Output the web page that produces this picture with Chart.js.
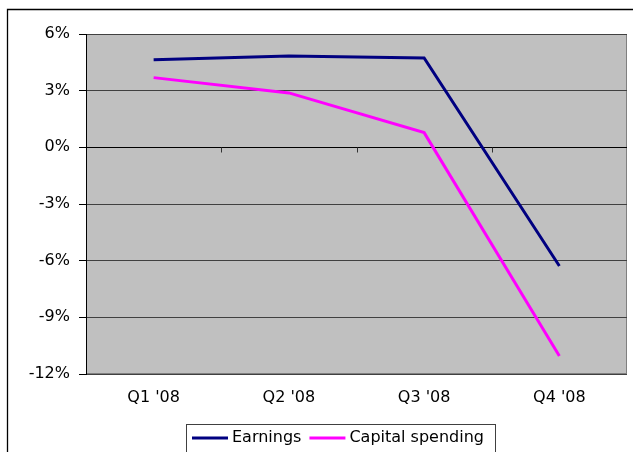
<!DOCTYPE html>
<html>
<head>
<meta charset="utf-8">
<script src="https://cdn.jsdelivr.net/npm/chart.js@4/dist/chart.umd.min.js"></script>
<style>
   html, body { margin: 0; padding: 0; background: #ffffff; }
   #wrap { width: 633px; height: 452px; }
</style>
</head>
<body>
<div id="wrap"><canvas id="graph" width="633" height="452"></canvas></div>
<script>
const quarters = ["Q1 '08", "Q2 '08", "Q3 '08", "Q4 '08"];
const earnings = [4.64, 4.84, 4.73, -6.28];
const capitalSpending = [3.69, 2.88, 0.78, -11.05];
const yTicks = [-12, -9, -6, -3, 0, 3, 6];

const fontFamily = '"DejaVu Sans", sans-serif';

// fond gris, bordures, petites graduations sur la ligne 0 et legende encadree
const plotDecor = {
   id: 'plotDecor',
   beforeDraw(chart) {
      const ctx = chart.ctx;
      const a = chart.chartArea;
      ctx.save();
      ctx.fillStyle = '#ffffff';
      ctx.fillRect(0, 0, chart.width, chart.height);
      // cadre exterieur
      ctx.strokeStyle = '#000000';
      ctx.lineWidth = 1.3;
      ctx.beginPath();
      ctx.moveTo(7.5, chart.height + 2);
      ctx.lineTo(7.5, 9.5);
      ctx.lineTo(chart.width + 2, 9.5);
      ctx.stroke();
      ctx.fillStyle = '#c0c0c0';
      ctx.fillRect(a.left, a.top, a.right - a.left, a.bottom - a.top);
      ctx.strokeStyle = '#808080';
      ctx.lineWidth = 1;
      ctx.strokeRect(a.left + 0.5, a.top + 0.5, a.right - a.left - 1, a.bottom - a.top - 1);
      ctx.restore();
   },
   beforeDatasetsDraw(chart) {
      const ctx = chart.ctx;
      const x = chart.scales.x;
      const y0 = Math.round(chart.scales.y.getPixelForValue(0)) + 0.5;
      ctx.save();
      ctx.strokeStyle = '#333333';
      ctx.lineWidth = 1;
      for (let i = 0; i < quarters.length - 1; i++) {
         const px = Math.round((x.getPixelForValue(i) + x.getPixelForValue(i + 1)) / 2) + 0.5;
         ctx.beginPath();
         ctx.moveTo(px, y0);
         ctx.lineTo(px, y0 + 5);
         ctx.stroke();
      }
      ctx.restore();
   },
   afterDraw(chart) {
      const ctx = chart.ctx;
      ctx.save();
      ctx.strokeStyle = '#404040';
      ctx.lineWidth = 1;
      ctx.strokeRect(186.5, 424.5, 309, 40);
      ctx.font = '16px ' + fontFamily;
      ctx.textBaseline = 'middle';
      ctx.fillStyle = '#000000';
      let x = 192;
      const yMid = 438;
      chart.data.datasets.forEach(ds => {
         ctx.strokeStyle = ds.borderColor;
         ctx.lineWidth = 3;
         ctx.beginPath();
         ctx.moveTo(x, yMid);
         ctx.lineTo(x + 36, yMid);
         ctx.stroke();
         ctx.fillText(ds.label, x + 40, yMid);
         x += 40 + ctx.measureText(ds.label).width + 8;
      });
      ctx.restore();
   }
};

new Chart(
   document.getElementById('graph'),
   {
      type: 'line',
      data: {
         labels: quarters,
         datasets: [
            {
               label: 'Earnings',
               data: earnings,
               borderColor: '#000080',
               backgroundColor: '#000080',
               borderWidth: 3,
               pointRadius: 0,
               tension: 0
            },
            {
               label: 'Capital spending',
               data: capitalSpending,
               borderColor: '#ff00ff',
               backgroundColor: '#ff00ff',
               borderWidth: 3,
               pointRadius: 0,
               tension: 0
            }
         ]
      },
      options: {
         responsive: false,
         animation: false,
         layout: {
            padding: { left: 0, top: 34, right: 6, bottom: 0 }
         },
         plugins: {
            legend: { display: false },
            tooltip: { enabled: false }
         },
         scales: {
            x: {
               offset: true,
               grid: { display: false, drawTicks: false },
               border: { display: false },
               ticks: {
                  color: '#000000',
                  padding: 14,
                  maxRotation: 0,
                  font: { family: fontFamily, size: 16 }
               },
               afterFit(scale) { scale.height = 78; }
            },
            y: {
               min: -12,
               max: 6,
               afterBuildTicks(scale) {
                  scale.ticks = yTicks.map(v => ({ value: v }));
               },
               grid: {
                  color: ctx => (ctx.tick && ctx.tick.value === 0) ? '#000000' : '#404040',
                  tickLength: 7,
                  tickColor: '#000000'
               },
               border: { color: '#000000', width: 1 },
               ticks: {
                  color: '#000000',
                  padding: 9,
                  font: { family: fontFamily, size: 16 },
                  callback: v => v + '%'
               },
               afterFit(scale) { scale.width = 86; }
            }
         }
      },
      plugins: [plotDecor]
   }
);
</script>
</body>
</html>
